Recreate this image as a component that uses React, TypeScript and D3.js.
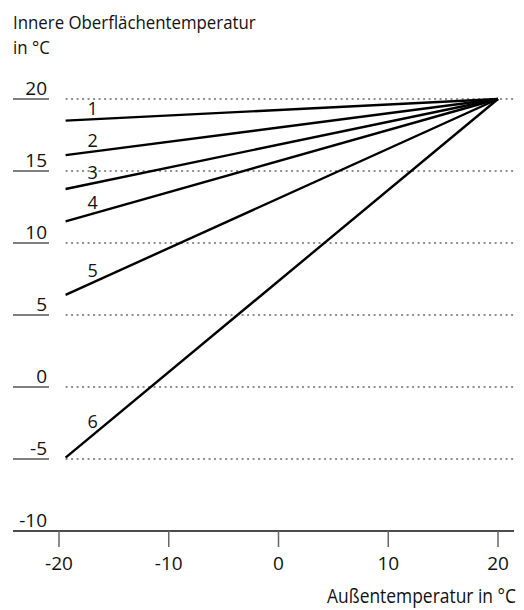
import React from "react";
import * as d3 from "d3";

const yTicks = [20, 15, 10, 5, 0, -5, -10];
const xTicks = [-20, -10, 0, 10, 20];
const lineIds = ["1", "2", "3", "4", "5", "6"];
const startX = -19.4;
const endX = 20;
const startValues = [18.5, 16.1, 13.75, 11.5, 6.4, -4.9];
const endValue = 20;
const yTitle = ["Innere Oberflächentemperatur", "in °C"];
const xTitle = "Außentemperatur in °C";

const W = 524;
const H = 610;
const font = "'Open Sans', sans-serif";

export default function App() {
  const x = d3.scaleLinear().domain([-20, 20]).range([59, 498]);
  const y = d3.scaleLinear().domain([-10, 20]).range([531, 99]);
  const line = d3
    .line<[number, number]>()
    .x((d) => x(d[0]))
    .y((d) => y(d[1]));

  const labelX = x(startX) + 27;
  const lineYAt = (v: number, px: number) => {
    const x0 = x(startX);
    const x1 = x(endX);
    const t = (px - x0) / (x1 - x0);
    return y(v) + t * (y(endValue) - y(v));
  };

  return (
    <svg
      width={W}
      height={H}
      style={{ position: "absolute", left: 0, top: 0, background: "#fff" }}
      fontFamily={font}
    >
      {yTitle.map((t, i) => (
        <text
          key={t}
          transform={`translate(13,${28.5 + i * 25.3}) scale(0.91,1)`}
          fontSize={18.5}
          fill="#111"
        >
          {t}
        </text>
      ))}
      {yTicks.map((v) => (
        <g key={v}>
          {v !== -10 && (
            <>
              <line x1={13} x2={49} y1={y(v)} y2={y(v)} stroke="#555" strokeWidth={1.3} />
              <line
                x1={x(startX)}
                x2={516}
                y1={y(v)}
                y2={y(v)}
                stroke="#222"
                strokeWidth={1.2}
                strokeDasharray="2,3.5"
              />
            </>
          )}
          <text x={47} y={y(v) - 4} textAnchor="end" fontSize={19} fill="#111">
            {v}
          </text>
        </g>
      ))}
      <line x1={13} x2={514} y1={y(-10)} y2={y(-10)} stroke="#111" strokeWidth={1.3} />
      {xTicks.map((v) => (
        <g key={v}>
          <line x1={x(v)} x2={x(v)} y1={y(-10)} y2={y(-10) + 16} stroke="#666" strokeWidth={1.5} />
          <text x={x(v)} y={y(-10) + 39} textAnchor="middle" fontSize={19} fill="#111">
            {v}
          </text>
        </g>
      ))}
      <text
        transform="translate(516,603) scale(0.85,1)"
        textAnchor="end"
        fontSize={20.5}
        fill="#111"
      >
        {xTitle}
      </text>
      {startValues.map((v, i) => {
        const pts: [number, number][] = [
          [startX, v],
          [endX, endValue],
        ];
        return (
          <g key={lineIds[i]}>
            <path d={line(pts) || ""} fill="none" stroke="#000" strokeWidth={2.4} />
            <text
              x={labelX}
              y={lineYAt(v, labelX + 4) - 4}
              textAnchor="middle"
              fontSize={18}
              fill="#111"
            >
              {lineIds[i]}
            </text>
          </g>
        );
      })}
    </svg>
  );
}
